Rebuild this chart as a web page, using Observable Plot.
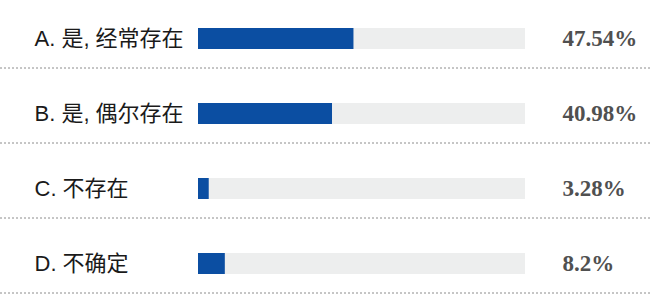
<!DOCTYPE html>
<html>
<head>
<meta charset="utf-8">
<script src="https://cdn.jsdelivr.net/npm/d3@7"></script>
<script src="https://cdn.jsdelivr.net/npm/@observablehq/plot@0.6"></script>
<style>
  html, body { margin: 0; padding: 0; background: #fff; }
  #chart svg { display: block; }
</style>
</head>
<body>
<div id="chart"></div>
<script>
// Survey answers and their shares (percent)
const options = ["A. 是, 经常存在", "B. 是, 偶尔存在", "C. 不存在", "D. 不确定"];
const shares = [47.54, 40.98, 3.28, 8.2];
const shareLabels = ["47.54%", "40.98%", "3.28%", "8.2%"];

const rows = options.map((option, i) => ({option, share: shares[i], label: shareLabels[i], full: 100}));

const chart = Plot.plot({
  width: 652,
  height: 301,
  marginTop: 0,
  marginBottom: 0,
  marginLeft: 198,
  marginRight: 127,
  x: {domain: [0, 100], axis: null},
  y: {domain: options, padding: 0, axis: null},
  style: {background: "#fff"},
  marks: [
    // dashed separator under each row, across the full width
    Plot.ruleY(rows, {y: "option", dy: 29, insetLeft: -198, insetRight: -127,
      stroke: "#8c8c8c", strokeWidth: 1, strokeDasharray: "2,2"}),
    // grey track = 100%
    Plot.barX(rows, {y: "option", x: "full", fill: "#edeeee", insetTop: 27, insetBottom: 27}),
    // blue share bar
    Plot.barX(rows, {y: "option", x: "share", fill: "#0b4ea2", insetTop: 27, insetBottom: 27}),
    // answer labels on the left
    Plot.text(rows, {y: "option", text: "option", frameAnchor: "left", dx: -164, textAnchor: "start",
      fontSize: 22, fill: "#1a1a1a", fontFamily: "'Liberation Sans', 'Noto Sans CJK SC', sans-serif"}),
    // percentage values on the right
    Plot.text(rows, {y: "option", x: "full", text: "label", dx: 37, textAnchor: "start",
      fontSize: 23, fontWeight: "bold", fill: "#505050", fontFamily: "'Liberation Serif', serif"})
  ]
});

document.getElementById("chart").appendChild(chart);
</script>
</body>
</html>
